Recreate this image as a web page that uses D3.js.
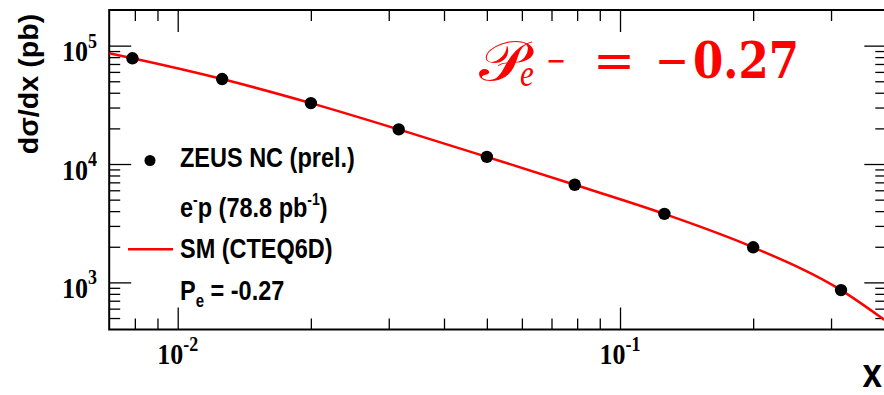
<!DOCTYPE html>
<html><head><meta charset="utf-8">
<script src="https://cdn.jsdelivr.net/npm/d3@7"></script>
<style>html,body{margin:0;padding:0;background:#fff;} svg{display:block;}</style>
</head><body>
<svg id="chart" width="884" height="395"></svg>
<script>
// ---- data ----
const xData = [0.0079, 0.0126, 0.02, 0.0316, 0.05, 0.079, 0.126, 0.2, 0.316];
const yData = [78200, 52200, 32700, 19600, 11500, 6680, 3790, 1980, 861];
const curveX = [0.007, 0.0079, 0.0126, 0.02, 0.0316, 0.05, 0.079, 0.126, 0.2, 0.316, 0.4];
const curveY = [86100, 78200, 52200, 32700, 19600, 11500, 6680, 3790, 1980, 861, 470];
const xMajorTicks = [0.01, 0.1];
const xTickExponents = ["-2", "-1"];
const yMajorTicks = [1e3, 1e4, 1e5];
const yTickExponents = ["3", "4", "5"];
const xDomain = [0.007, 0.4];
const yDomain = [400, 2e5];

(function () {
const svg = d3.select("#chart");
const pL = 109.2, pR = 886.3, pT = 10, pB = 329.5;
const x = d3.scaleLog().domain(xDomain).range([pL, pR]);
const y = d3.scaleLog().domain(yDomain).range([pB, pT]);
const SY = 1.2;
const SANS = "'Liberation Sans', Arial, Helvetica, sans-serif";
const SERIF = "'Liberation Serif', 'Times New Roman', serif";

function txt(g, tx, ty, sy, extra) {
  return g.append("text").attr("x", 0).attr("y", 0)
    .attr("transform", `translate(${tx},${ty}) scale(1,${sy})${extra || ""}`);
}

// ---- ticks ----
const isMajor = v => Math.abs(Math.log10(v) - Math.round(Math.log10(v))) < 1e-9;
const xMinor = x.ticks().filter(v => !isMajor(v) && v > xDomain[0] * 1.001 && v < xDomain[1] * 0.999);
const yMinor = y.ticks().filter(v => !isMajor(v) && v > yDomain[0] * 1.001 && v < yDomain[1] * 0.999);

function axisGroup(gen, tr) {
  const g = svg.append("g").attr("transform", tr).call(gen);
  g.select(".domain").remove();
  g.selectAll("text").remove();
  g.selectAll("line").attr("stroke", "#000").attr("stroke-width", 1.3);
  return g;
}
axisGroup(d3.axisBottom(x).tickValues(xMinor).tickSizeInner(-11).tickSizeOuter(0), `translate(0,${pB})`);
axisGroup(d3.axisBottom(x).tickValues(xMajorTicks).tickSizeInner(-22).tickSizeOuter(0), `translate(0,${pB})`);
axisGroup(d3.axisTop(x).tickValues(xMinor).tickSizeInner(-11).tickSizeOuter(0), `translate(0,${pT})`);
axisGroup(d3.axisTop(x).tickValues(xMajorTicks).tickSizeInner(-22).tickSizeOuter(0), `translate(0,${pT})`);
axisGroup(d3.axisLeft(y).tickValues(yMinor).tickSizeInner(-11).tickSizeOuter(0), `translate(${pL},0)`);
axisGroup(d3.axisLeft(y).tickValues(yMajorTicks).tickSizeInner(-22).tickSizeOuter(0), `translate(${pL},0)`);
axisGroup(d3.axisRight(y).tickValues(yMinor).tickSizeInner(-11).tickSizeOuter(0), `translate(${pR},0)`);
axisGroup(d3.axisRight(y).tickValues(yMajorTicks).tickSizeInner(-22).tickSizeOuter(0), `translate(${pR},0)`);

// frame
svg.append("rect").attr("x", pL).attr("y", pT)
  .attr("width", pR - pL).attr("height", pB - pT)
  .attr("fill", "none").attr("stroke", "#000").attr("stroke-width", 2);

// tick labels
xMajorTicks.forEach((v, i) => {
  const t = txt(svg, x(v), 364, 1.12).attr("text-anchor", "middle")
    .attr("font-family", SERIF).attr("font-weight", "bold").attr("font-size", 26);
  t.append("tspan").text("10");
  t.append("tspan").attr("font-size", 18).attr("dy", -12).text(xTickExponents[i]);
});
yMajorTicks.forEach((v, i) => {
  const t = txt(svg, 97, y(v) + 15.5, 1.12).attr("text-anchor", "end")
    .attr("font-family", SERIF).attr("font-weight", "bold").attr("font-size", 26);
  t.append("tspan").text("10");
  t.append("tspan").attr("font-size", 18).attr("dy", -12).text(yTickExponents[i]);
});

// axis titles
txt(svg, 38, 84, 1, ` scale(1,1.06) rotate(-90)`).attr("text-anchor", "middle")
  .attr("font-family", SANS).attr("font-weight", "bold").attr("font-size", 27)
  .text("dσ/dx (pb)");
txt(svg, 882, 387, 1.18).attr("text-anchor", "end")
  .attr("font-family", SANS).attr("font-weight", "bold").attr("font-size", 35).text("x");

// curve
svg.append("clipPath").attr("id", "plotclip").append("rect")
  .attr("x", pL).attr("y", pT).attr("width", pR - pL).attr("height", pB - pT);
const line = d3.line().x(d => x(d[0])).y(d => y(d[1])).curve(d3.curveMonotoneX);
svg.append("path").datum(d3.zip(curveX, curveY)).attr("clip-path", "url(#plotclip)")
  .attr("d", line).attr("fill", "none").attr("stroke", "#ff0000").attr("stroke-width", 2.5);

// points
svg.append("g").selectAll("circle").data(d3.zip(xData, yData)).join("circle")
  .attr("cx", d => x(d[0])).attr("cy", d => y(d[1])).attr("r", 6.2).attr("fill", "#000");

// legend
const lg = svg.append("g").attr("font-family", SANS).attr("font-weight", "bold").attr("font-size", 23.5).attr("fill", "#000");
lg.append("circle").attr("cx", 150).attr("cy", 160.5).attr("r", 5.5).attr("fill", "#000");
txt(lg, 180, 166.5, SY).text("ZEUS NC (prel.)");
const t2 = txt(lg, 180, 216.5, SY);
t2.append("tspan").text("e");
t2.append("tspan").attr("font-size", 14).attr("dy", -10).text("-");
t2.append("tspan").attr("dy", 10).text("p (78.8 pb");
t2.append("tspan").attr("font-size", 14).attr("dy", -10).text("-1");
t2.append("tspan").attr("dy", 10).text(")");
lg.append("line").attr("x1", 128).attr("x2", 173).attr("y1", 249.3).attr("y2", 249.3)
  .attr("stroke", "#ff0000").attr("stroke-width", 2.5);
txt(lg, 180, 258, SY).text("SM (CTEQ6D)");
const t4 = txt(lg, 180, 299.5, SY);
t4.append("tspan").text("P");
t4.append("tspan").attr("font-size", 15).attr("dy", 6).text("e");
t4.append("tspan").attr("dy", -6).text(" = -0.27");

// big red annotation
const rg = svg.append("g").attr("fill", "#ff0000");
txt(rg, 479, 80, 1.1).attr("font-family", "'DejaVu Sans', 'DejaVu Serif', serif").attr("font-size", 50)
  .attr("textLength", 48).attr("lengthAdjust", "spacingAndGlyphs").text("𝒫");
txt(rg, 520, 86, SY).attr("font-family", SERIF).attr("font-style", "italic").attr("font-size", 31).text("e");
txt(rg, 546, 71, SY).attr("font-family", "'DejaVu Serif', serif").attr("font-size", 26)
  .attr("textLength", 20).attr("lengthAdjust", "spacingAndGlyphs").text("−");
txt(rg, 593, 78, SY).attr("font-family", "'DejaVu Serif', serif").attr("font-size", 42)
  .attr("textLength", 42).attr("lengthAdjust", "spacingAndGlyphs").text("=");
txt(rg, 655, 78, SY).attr("font-family", "'DejaVu Serif', serif").attr("font-size", 42)
  .attr("textLength", 34).attr("lengthAdjust", "spacingAndGlyphs").text("−");
txt(rg, 693, 78, SY).attr("font-family", "'DejaVu Serif', serif").attr("font-weight", "bold").attr("font-size", 42)
  .attr("textLength", 106).attr("lengthAdjust", "spacingAndGlyphs").text("0.27");
})();
</script>
</body></html>
